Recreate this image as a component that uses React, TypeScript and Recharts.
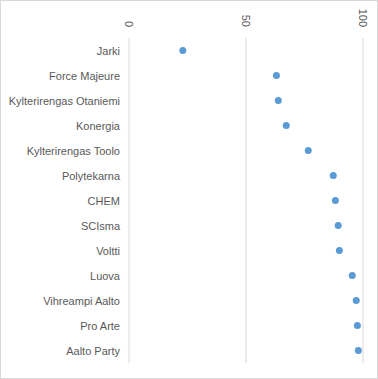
import React from 'react';
import { ComposedChart, Scatter, XAxis, YAxis, CartesianGrid } from 'recharts';

const clubs = [
  'Jarki',
  'Force Majeure',
  'Kylterirengas Otaniemi',
  'Konergia',
  'Kylterirengas Toolo',
  'Polytekarna',
  'CHEM',
  'SCIsma',
  'Voltti',
  'Luova',
  'Vihreampi Aalto',
  'Pro Arte',
  'Aalto Party',
];
const scores = [23, 63, 63.8, 67.2, 76.6, 87.3, 88.2, 89.4, 89.9, 95.4, 97.1, 97.6, 98];
const xTicks = [0, 50, 100];

const chartData = clubs.map((name, i) => ({ name, value: scores[i] }));

const TEXT = '#595959';
const FONT = '"Liberation Sans", Arial, sans-serif';

const TopTick = (props: any) => {
  const { x, payload } = props;
  return (
    <text
      x={x}
      y={26}
      transform={`rotate(90, ${x}, 26)`}
      textAnchor="end"
      dominantBaseline="central"
      fill={TEXT}
      fontSize={11}
      fontFamily={FONT}
    >
      {payload.value}
    </text>
  );
};

const LeftTick = (props: any) => {
  const { y, payload } = props;
  return (
    <text x={119} y={y} textAnchor="end" dominantBaseline="central" fill={TEXT} fontSize={11} fontFamily={FONT}>
      {payload.value}
    </text>
  );
};

const App: React.FC = () => {
  return (
    <div style={{ position: 'absolute', left: 0, top: 0, width: 378, height: 379, boxSizing: 'border-box', border: '1px solid #d9d9d9', background: '#fff' }}>
      <ComposedChart
        width={376}
        height={377}
        layout="vertical"
        data={chartData}
        margin={{ top: 0, right: 14, bottom: 15, left: 0 }}
      >
        <CartesianGrid horizontal={false} stroke="#d9d9d9" />
        <XAxis
          type="number"
          dataKey="value"
          orientation="top"
          domain={[0, 100]}
          ticks={xTicks}
          axisLine={false}
          tickLine={false}
          height={37}
          tick={<TopTick />}
        />
        <YAxis
          type="category"
          dataKey="name"
          width={128}
          axisLine={false}
          tickLine={false}
          interval={0}
          padding={{ top: 12.5, bottom: 12.5 }}
          tick={<LeftTick />}
        />
        <Scatter dataKey="value" fill="#5b9bd5" isAnimationActive={false} shape={(p: any) => <circle cx={p.cx} cy={p.cy} r={3.5} fill="#5b9bd5" />} />
      </ComposedChart>
    </div>
  );
};

export default App;
